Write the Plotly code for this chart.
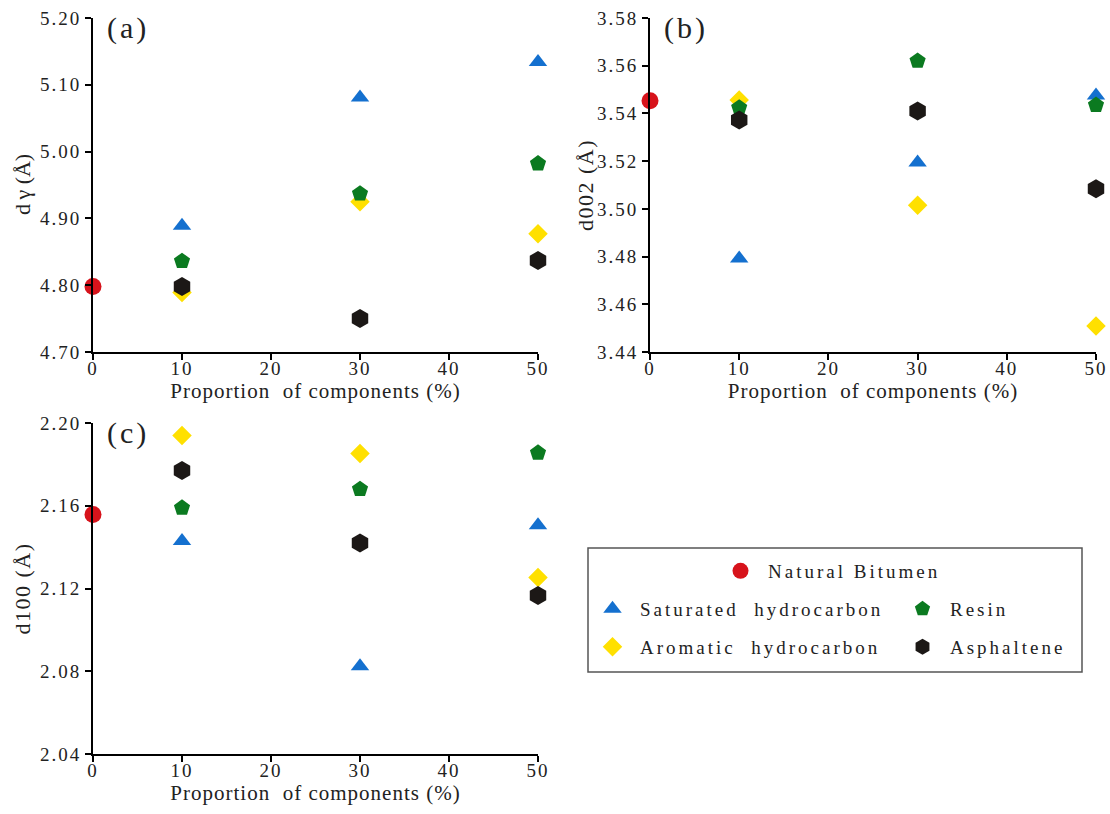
import plotly.graph_objects as go

# ---------------- data ----------------
x_nb = [0]
x_comp = [10, 30, 50]
x_ticks = [0, 10, 20, 30, 40, 50]

# (a) d-gamma
a_nb = [4.798]
a_sat = [4.889, 5.081, 5.134]
a_resin = [4.836, 4.937, 4.982]
a_arom = [4.789, 4.925, 4.877]
a_asph = [4.798, 4.750, 4.837]

# (b) d002
b_nb = [3.5453]
b_sat = [3.4792, 3.5194, 3.5475]
b_resin = [3.5424, 3.5620, 3.5435]
b_arom = [3.5456, 3.5015, 3.4509]
b_asph = [3.5372, 3.5410, 3.5084]

# (c) d100
c_nb = [2.1558]
c_sat = [2.1430, 2.0824, 2.1506]
c_resin = [2.1590, 2.1680, 2.1856]
c_arom = [2.1940, 2.1853, 2.1253]
c_asph = [2.1770, 2.1420, 2.1166]

a_yticks = [4.70, 4.80, 4.90, 5.00, 5.10, 5.20]
b_yticks = [3.44, 3.46, 3.48, 3.50, 3.52, 3.54, 3.56, 3.58]
c_yticks = [2.04, 2.08, 2.12, 2.16, 2.20]

series_labels = {"nb": "Natural Bitumen",
                 "sat": "Saturated\u00a0\u00a0hydrocarbon",
                 "resin": "Resin",
                 "arom": "Aromatic\u00a0\u00a0hydrocarbon",
                 "asph": "Asphaltene"}

y_titles = ["d\u2009\u03b3 (\u00c5)", "d002 (\u00c5)", "d100 (\u00c5)"]
x_title = "Proportion\u00a0\u00a0of\u00a0components\u00a0(%)"
panel_tags = ["(a)", "(b)", "(c)"]

# ---------------- styles ----------------
FONT = "Liberation Serif"
TXT = "#222"
colors = {"nb": "#d7131b", "sat": "#1470cf", "resin": "#0b7a20",
          "arom": "#ffe000", "asph": "#1c1816"}
symbols = {"nb": "circle", "sat": "triangle-up", "resin": "pentagon",
           "arom": "diamond", "asph": "hexagon"}
sizes = {"nb": 17, "sat": 16, "resin": 17, "arom": 15, "asph": 19}
legend_of = {"nb": "legend", "sat": "legend2", "resin": "legend2",
             "arom": "legend3", "asph": "legend3"}


def spaced(s, px):
    return "<span style='letter-spacing:%spx'>%s</span>" % (px, s)


W, H = 1110, 814
fig = go.Figure()

panels = [
    ("x", "y", a_nb, a_sat, a_resin, a_arom, a_asph, True),
    ("x2", "y2", b_nb, b_sat, b_resin, b_arom, b_asph, False),
    ("x3", "y3", c_nb, c_sat, c_resin, c_arom, c_asph, False),
]

for xa, ya, nb, sat, resin, arom, asph, show in panels:
    for key, xs, ys in [("nb", x_nb, nb), ("sat", x_comp, sat),
                        ("arom", x_comp, arom), ("resin", x_comp, resin),
                        ("asph", x_comp, asph)]:
        fig.add_trace(go.Scatter(
            x=xs, y=ys, mode="markers", xaxis=xa, yaxis=ya,
            name=spaced(series_labels[key], 3), legend=legend_of[key],
            showlegend=show,
            legendrank={"nb": 1, "sat": 2, "resin": 3, "arom": 4, "asph": 5}[key],
            cliponaxis=False,
            marker=dict(symbol=symbols[key], size=sizes[key], color=colors[key],
                        line=dict(width=0)),
        ))


def px_x(p):
    return p / W


def px_y(p):
    return 1 - p / H


axis_common = dict(showline=True, linecolor="black", linewidth=2,
                   ticks="outside", ticklen=6, tickwidth=2, tickcolor="black",
                   showgrid=False, zeroline=False, mirror=False,
                   tickfont=dict(family=FONT, size=19, color=TXT))


def xaxis_def(dom, anchor):
    return dict(domain=dom, range=[0, 50], tickvals=x_ticks,
                ticktext=[spaced(str(v), 2) for v in x_ticks],
                ticklabelstandoff=-8, anchor=anchor,
                title=dict(text=spaced(x_title, 1),
                           font=dict(family=FONT, size=21, color=TXT), standoff=0),
                **axis_common)


def yaxis_def(dom, rng, ticks, anchor):
    return dict(domain=dom, range=rng, tickvals=ticks,
                ticktext=[spaced("%.2f" % v, 2) for v in ticks], anchor=anchor,
                **axis_common)


leg_font = dict(family=FONT, size=19, color=TXT)

dom_a = ([px_x(93), px_x(538)], [px_y(352), px_y(18)])
dom_b = ([px_x(650), px_x(1096)], [px_y(352), px_y(18)])
dom_c = ([px_x(93), px_x(538)], [px_y(754), px_y(423)])

fig.update_layout(
    width=W, height=H, paper_bgcolor="white", plot_bgcolor="white",
    margin=dict(l=0, r=0, t=0, b=0, autoexpand=False),
    xaxis=xaxis_def(dom_a[0], "y"),
    yaxis=yaxis_def(dom_a[1], [4.70, 5.20], a_yticks, "x"),
    xaxis2=xaxis_def(dom_b[0], "y2"),
    yaxis2=yaxis_def(dom_b[1], [3.44, 3.58], b_yticks, "x2"),
    xaxis3=xaxis_def(dom_c[0], "y3"),
    yaxis3=yaxis_def(dom_c[1], [2.04, 2.20], c_yticks, "x3"),
    legend=dict(x=px_x(713), y=px_y(552), xanchor="left", yanchor="top",
                orientation="h", bgcolor="rgba(0,0,0,0)", borderwidth=0,
                itemwidth=45, font=leg_font),
    legend2=dict(x=px_x(585), y=px_y(590), xanchor="left", yanchor="top",
                 orientation="h", entrywidth=250, itemwidth=45,
                 bgcolor="rgba(0,0,0,0)", font=leg_font),
    legend3=dict(x=px_x(585), y=px_y(628), xanchor="left", yanchor="top",
                 orientation="h", entrywidth=250, itemwidth=45,
                 bgcolor="rgba(0,0,0,0)", font=leg_font),
    showlegend=True,
)

# legend frame
fig.add_shape(type="rect", xref="paper", yref="paper",
              x0=px_x(588), x1=px_x(1082), y0=px_y(672), y1=px_y(548),
              line=dict(color="#555", width=1.5), fillcolor="rgba(0,0,0,0)")

# y-axis titles (rotated text, placed beside each axis)
for title, spacing, xc, dom in [(y_titles[0], 0, 22, dom_a), (y_titles[1], 1.5, 585, dom_b),
                                (y_titles[2], 1.5, 22, dom_c)]:
    fig.add_annotation(text=spaced(title, spacing), xref="paper", yref="paper",
                       x=px_x(xc), y=(dom[1][0] + dom[1][1]) / 2,
                       xanchor="center", yanchor="middle", textangle=-90,
                       showarrow=False, font=dict(family=FONT, size=22, color=TXT))

# panel labels
for txt, xr, yr in zip(panel_tags, ["x domain", "x2 domain", "x3 domain"],
                       ["y domain", "y2 domain", "y3 domain"]):
    fig.add_annotation(text=spaced(txt, 3), xref=xr, yref=yr, x=0.028, y=1.0,
                       xanchor="left", yanchor="top", yshift=9, showarrow=False,
                       font=dict(family=FONT, size=30, color=TXT))

fig.write_html("out.html", config={"displayModeBar": False},
               post_script="document.body.style.margin='0px';")
